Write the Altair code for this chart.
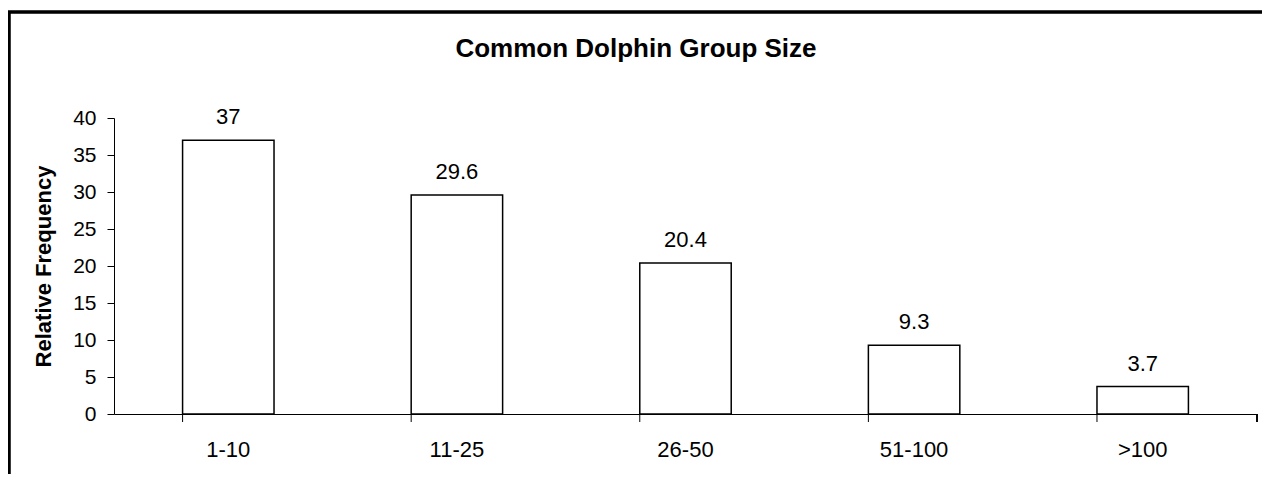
import altair as alt
import pandas as pd

categories = ["1-10", "11-25", "26-50", "51-100", ">100"]
values = [37, 29.6, 20.4, 9.3, 3.7]
value_labels = ["37", "29.6", "20.4", "9.3", "3.7"]
y_ticks = [0, 5, 10, 15, 20, 25, 30, 35, 40]
title_text = "Common Dolphin Group Size"

df = pd.DataFrame({"cat": categories, "val": values, "lab": value_labels})

W, H = 1143, 296
FONT = "Liberation Sans"

xscale = alt.Scale(domain=categories, paddingInner=0.6, paddingOuter=0.3)
yscale = alt.Scale(domain=[0, 40], nice=False)

xaxis = alt.Axis(title=None, labelAngle=0, ticks=False, labelFont=FONT,
                 labelFontSize=22, labelColor="black", labelPadding=25,
                 domainColor="black", domainWidth=1)
yaxis = alt.Axis(values=y_ticks, grid=False, title="Relative Frequency",
                 titleFont=FONT, titleFontSize=22, titleFontWeight="bold",
                 titleColor="black", titlePadding=17, labelFont=FONT,
                 labelFontSize=21, labelColor="black", labelPadding=11,
                 labelOverlap=False, labelSeparation=0, tickSize=7,
                 tickColor="black", domainColor="black", domainWidth=1)

base = alt.Chart(df)

bars = base.mark_bar(fill="white", stroke="black", strokeWidth=1.5).encode(
    x=alt.X("cat:N", sort=categories, scale=xscale, axis=xaxis),
    y=alt.Y("val:Q", scale=yscale, axis=yaxis),
)

text = base.mark_text(font=FONT, fontSize=22, color="black", baseline="alphabetic", dy=-16).encode(
    x=alt.X("cat:N", sort=categories, scale=xscale, axis=xaxis),
    y=alt.Y("val:Q", scale=yscale, axis=yaxis),
    text="lab:N",
)

xticks = base.mark_rule(color="black", strokeWidth=1).encode(
    x=alt.X("cat:N", sort=categories, scale=xscale, bandPosition=0, axis=xaxis),
    y=alt.value(H),
    y2=alt.value(H + 8),
)
xtick_end = base.mark_rule(color="black", strokeWidth=1).encode(
    x=alt.value(W), y=alt.value(H), y2=alt.value(H + 8)
)

title_mark = alt.Chart(pd.DataFrame({"t": [title_text]})).mark_text(
    font=FONT, fontSize=26, fontWeight="bold", color="black",
    align="center", baseline="alphabetic"
).encode(x=alt.value(522), y=alt.value(-61), text="t:N")

frame_top = base.mark_rule(color="black", strokeWidth=2.5).encode(
    x=alt.value(-110), x2=alt.value(W + 300), y=alt.value(-106)
)
frame_left = base.mark_rule(color="black", strokeWidth=2.5).encode(
    x=alt.value(-105), y=alt.value(-107), y2=alt.value(H + 200)
)

chart = alt.layer(bars, text, xticks, xtick_end, title_mark, frame_top, frame_left).properties(
    width=W,
    height=H,
    autosize="none",
    padding={"left": 106, "top": 110, "right": 5, "bottom": 60},
).configure(background="white").configure_view(stroke=None)

chart.save("out.html", embed_options={"renderer": "svg", "actions": False})
